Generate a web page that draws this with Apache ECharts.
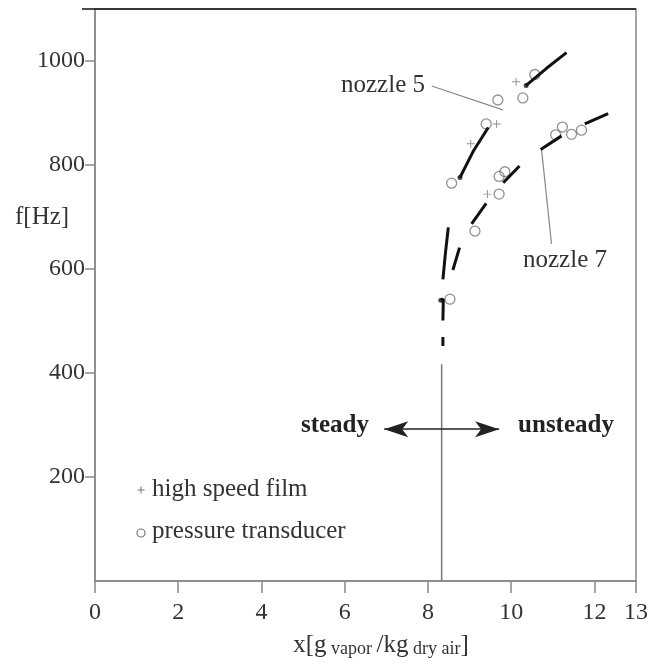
<!DOCTYPE html>
<html>
<head>
<meta charset="utf-8">
<script src="https://cdn.jsdelivr.net/npm/echarts@6/dist/echarts.min.js"></script>
<style>html,body{margin:0;padding:0;background:#fff;}#chart{width:664px;height:665px;}</style>
</head>
<body>
<div id="chart"></div>
<script>
// ---- data ----
const xTicks = [0, 2, 4, 6, 8, 10, 12, 13];
const yTicks = [200, 400, 600, 800, 1000];

// thick curve pieces [x, f]
const commonSegments = [
  [[8.36, 452], [8.36, 469]],
  [[8.31, 540], [8.37, 542], [8.36, 501]]
];
const nozzle5Segments = [
  [[8.36, 580], [8.42, 630], [8.49, 680]],
  [[8.77, 776], [9.10, 828], [9.45, 872]],
  [[10.36, 953], [10.85, 986], [11.33, 1016]]
];
const nozzle7Segments = [
  [[8.60, 598], [8.76, 641]],
  [[9.05, 687], [9.40, 726]],
  [[9.81, 766], [10.20, 798]],
  [[10.71, 830], [11.21, 856]],
  [[11.77, 879], [12.33, 899]]
];
const segmentDots = [[8.77, 776], [10.36, 953], [8.31, 540]];

// measurements
const highSpeedFilm = [[10.12, 960], [9.65, 879], [9.03, 841], [9.43, 744]];
const pressureTransducer = [
  [10.57, 974], [10.28, 929], [9.68, 925], [9.40, 879], [8.57, 765],
  [9.71, 778], [9.85, 787], [9.71, 744], [9.13, 673], [8.53, 542],
  [11.07, 858], [11.23, 873], [11.45, 859], [11.69, 867]
];

// annotations (data space)
const nozzle5Leader = [[8.09, 952], [9.80, 906]];
const nozzle7Leader = [[10.73, 830], [10.97, 648]];
const boundaryLine = [[8.33, 0], [8.33, 417]];
const regimeArrow = [[6.95, 292], [9.71, 292]];

// ---- chart ----
const serif = 'Liberation Serif, Times New Roman, serif';
const chart = echarts.init(document.getElementById('chart'));

function curveSeries(segs) {
  return segs.map(s => ({
    type: 'line', data: s, showSymbol: false, symbol: 'none', silent: true,
    lineStyle: { color: '#111', width: 3 }, animation: false, z: 5
  }));
}

const plusPath = 'path://M4.4,0H5.6V4.4H10V5.6H5.6V10H4.4V5.6H0V4.4H4.4Z';

const option = {
  backgroundColor: '#fff',
  animation: false,
  grid: { left: 95, right: 28, top: 9, bottom: 84, show: true, borderColor: '#888', borderWidth: 1.5, outerBoundsMode: 'none', containLabel: false },
  xAxis: {
    type: 'value', min: 0, max: 13, interval: 1,
    axisLine: { show: true, lineStyle: { color: '#888', width: 1.5 } },
    axisTick: { show: true, inside: false, length: 12, lineStyle: { color: '#888', width: 1.5 }, customValues: xTicks },
    axisLabel: { show: true, customValues: xTicks, margin: 20, color: '#333', fontFamily: serif, fontSize: 24, showMinLabel: true, showMaxLabel: true, hideOverlap: false, formatter: v => String(v) },
    splitLine: { show: false }
  },
  yAxis: {
    type: 'value', min: 0, max: 1100, interval: 100,
    axisLine: { show: true, lineStyle: { color: '#888', width: 1.5 } },
    axisTick: { show: true, inside: false, length: 10, lineStyle: { color: '#888', width: 1.5 }, customValues: yTicks },
    axisLabel: { show: true, customValues: yTicks, margin: 10, color: '#333', fontFamily: serif, fontSize: 24, hideOverlap: false, formatter: v => String(v) },
    splitLine: { show: false }
  },
  series: [
    ...curveSeries(commonSegments),
    ...curveSeries(nozzle5Segments),
    ...curveSeries(nozzle7Segments),
    { type: 'scatter', data: segmentDots, symbol: 'circle', symbolSize: 5, itemStyle: { color: '#111' }, silent: true, z: 6 },
    { type: 'scatter', data: highSpeedFilm, symbol: plusPath, symbolSize: 8, itemStyle: { color: '#777' }, silent: true, z: 4 },
    { type: 'scatter', data: pressureTransducer, symbol: 'circle', symbolSize: 10, itemStyle: { color: 'rgba(255,255,255,0)', borderColor: '#777', borderWidth: 1.3 }, silent: true, z: 4 },
    { type: 'line', data: nozzle5Leader, showSymbol: false, symbol: 'none', silent: true, lineStyle: { color: '#888', width: 1.2 } },
    { type: 'line', data: nozzle7Leader, showSymbol: false, symbol: 'none', silent: true, lineStyle: { color: '#888', width: 1.2 } },
    {
      type: 'line', data: boundaryLine, showSymbol: false, symbol: 'none', silent: true, lineStyle: { color: '#777', width: 1.5 },
      markLine: {
        silent: true, animation: false,
        symbol: ['arrow', 'arrow'], symbolSize: [12, 24],
        label: { show: false },
        lineStyle: { color: '#222', width: 1.5, type: 'solid' },
        data: [[{ coord: regimeArrow[0] }, { coord: regimeArrow[1] }]]
      }
    }
  ],
  graphic: [
    { type: 'line', shape: { x1: 82, y1: 9, x2: 636, y2: 9 }, style: { stroke: '#111', lineWidth: 1.5 }, z: 10 },
    { type: 'text', left: 15, top: 205, style: { text: 'f[Hz]', fontFamily: serif, fontSize: 25, fill: '#333' } },
    { type: 'text', x: 381, y: 645, style: {
        text: '{a|x[g}{s| vapor }{a|/kg}{s| dry air}{a|]}', align: 'center', verticalAlign: 'middle',
        rich: {
          a: { fontFamily: serif, fontSize: 25, fill: '#333', lineHeight: 26, verticalAlign: 'bottom' },
          s: { fontFamily: serif, fontSize: 18, fill: '#333', lineHeight: 14, verticalAlign: 'bottom' }
        }
    } },
    { type: 'text', x: 383, y: 85, style: { text: 'nozzle 5', fontFamily: serif, fontSize: 25, fill: '#333', align: 'center', verticalAlign: 'middle' } },
    { type: 'text', x: 565, y: 260, style: { text: 'nozzle 7', fontFamily: serif, fontSize: 25, fill: '#333', align: 'center', verticalAlign: 'middle' } },
    { type: 'text', x: 335, y: 426, style: { text: 'steady', fontFamily: serif, fontSize: 25, fontWeight: 'bold', fill: '#222', align: 'center', verticalAlign: 'middle' } },
    { type: 'text', x: 566, y: 426, style: { text: 'unsteady', fontFamily: serif, fontSize: 25, fontWeight: 'bold', fill: '#222', align: 'center', verticalAlign: 'middle' } },
    { type: 'line', shape: { x1: 137.5, y1: 490, x2: 144.5, y2: 490 }, style: { stroke: '#777', lineWidth: 1 } },
    { type: 'line', shape: { x1: 141, y1: 486.5, x2: 141, y2: 493.5 }, style: { stroke: '#777', lineWidth: 1 } },
    { type: 'text', x: 152, y: 489, style: { text: 'high speed film', fontFamily: serif, fontSize: 25, fill: '#333', align: 'left', verticalAlign: 'middle' } },
    { type: 'circle', shape: { cx: 141, cy: 533, r: 4 }, style: { fill: 'none', stroke: '#777', lineWidth: 1.2 } },
    { type: 'text', x: 152, y: 531, style: { text: 'pressure transducer', fontFamily: serif, fontSize: 25, fill: '#333', align: 'left', verticalAlign: 'middle' } }
  ]
};
chart.setOption(option);
</script>
</body>
</html>
